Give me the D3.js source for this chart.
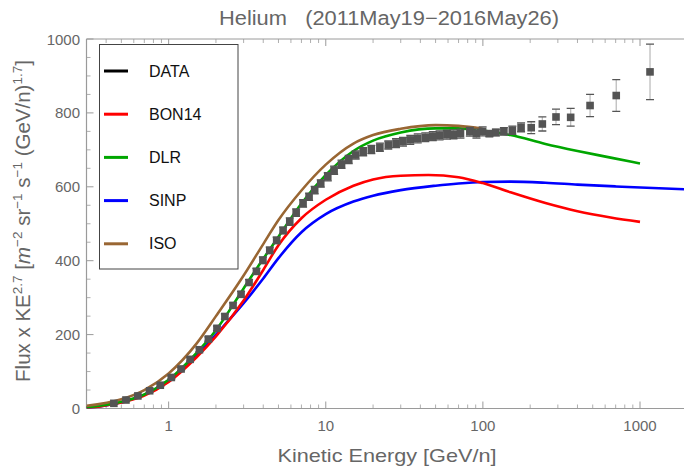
<!DOCTYPE html>
<html>
<head>
<meta charset="utf-8">
<script src="https://cdn.jsdelivr.net/npm/d3@7"></script>
<style>
  html, body { margin: 0; padding: 0; background: #fff; }
  svg { display: block; }
  text { font-family: "Liberation Sans", Arial, sans-serif; }
</style>
</head>
<body>
<svg id="chart" width="684" height="467"></svg>
<script>
// Measured helium flux (kinetic energy per nucleon, flux x KE^2.7)
const dataEnergy = [0.448, 0.535, 0.637, 0.757, 0.885, 1.04, 1.2, 1.37, 1.57, 1.79, 2.03, 2.28, 2.57, 2.89, 3.25, 3.62, 3.98, 4.4, 4.87, 5.35, 5.9, 6.48, 7.17, 7.83, 8.5, 9.29, 10.3, 11.3, 12.6, 14.0, 15.5, 17.3, 19.5, 22.1, 25, 28, 31, 34.5, 38.5, 43, 48, 53, 59, 65, 72, 82.6, 91, 99.6, 110, 121, 136, 154, 175, 203, 239, 292, 362, 481, 706, 1158];
const dataFlux   = [14, 23, 34, 48, 63, 84, 107, 133, 159, 188, 217, 249, 279, 309, 341, 371, 401, 428, 455, 482, 506, 530, 555, 573, 591, 609, 627, 645, 661, 674, 686, 695, 701, 707, 713, 718, 722, 727, 731, 734, 737, 739, 741, 742, 744, 749, 744, 750, 744, 747, 750, 753, 761, 760, 770, 789, 788, 820, 847, 911];
const dataErr    = [2, 2, 2, 3, 3, 4, 4, 5, 5, 6, 6, 7, 7, 8, 8, 8, 9, 9, 9, 9, 10, 10, 10, 10, 10, 10, 11, 11, 11, 11, 11, 11, 11, 11, 11, 12, 12, 12, 12, 12, 12, 12, 12, 12, 12, 12, 12, 12, 8, 9, 10, 11, 12, 16, 19, 21, 24, 30, 43, 75];

// Model curves
const bonEnergy = [0.3, 0.5, 0.7, 1, 1.5, 2, 3, 4, 5, 7, 10, 15, 20, 30, 45, 70, 100, 150, 250, 400, 650, 1000];
const bonFlux   = [1, 16, 35, 72, 138, 195, 292, 375, 442, 515, 565, 603, 620, 630, 632, 626, 610, 585, 556, 534, 517, 505];

const dlrEnergy = [0.3, 0.5, 0.7, 1, 1.5, 2, 3, 4, 5, 7, 10, 15, 20, 30, 50, 70, 100, 150, 250, 400, 650, 1000];
const dlrFlux   = [3, 18, 38, 78, 150, 212, 325, 405, 465, 555, 632, 697, 725, 747, 758, 758, 752, 740, 716, 697, 679, 663];

const sinpEnergy = [0.3, 0.5, 0.7, 1, 1.5, 2, 3, 4, 5, 7, 10, 15, 20, 30, 50, 70, 100, 150, 250, 400, 700, 2000];
const sinpFlux   = [1, 17, 37, 75, 142, 200, 285, 352, 407, 477, 526, 560, 576, 591, 603, 609, 613, 614, 611, 606, 601, 593];

const isoEnergy = [0.3, 0.5, 0.7, 1, 1.5, 2, 3, 4, 5, 7, 10, 15, 20, 30, 50, 70, 100];
const isoFlux   = [7, 25, 50, 95, 175, 250, 360, 445, 510, 590, 660, 717, 740, 757, 767, 765, 757];

const legendNames  = ["DATA", "BON14", "DLR", "SINP", "ISO"];
const legendColors = ["#000000", "#ff0000", "#00a600", "#0000ff", "#996633"];

const xTickValues = [1, 10, 100, 1000];
const yTickValues = [0, 200, 400, 600, 800, 1000];

const svg = d3.select("#chart");
const W = 684, H = 467;
const plotLeft = 86.5, plotTop = 39, plotBottom = 408.5;

const x = d3.scaleLog().domain([0.3, 2000]).range([plotLeft, 687.3]);
const y = d3.scaleLinear().domain([0, 1000]).range([plotBottom, plotTop]);

const axisGray = "#9a9a9a";
const textGray = "#666666";

// minor tick positions
const xMinor = [];
for (let d = -1; d <= 3; d++) {
  for (let m = 2; m <= 9; m++) {
    const v = m * Math.pow(10, d);
    if (v >= 0.3 && v <= 2000) xMinor.push(v);
  }
}
const yMinor = d3.range(0, 1001, 50).filter(v => v % 200 !== 0);

const frame = svg.append("g");
frame.append("line").attr("x1", plotLeft).attr("x2", W).attr("y1", plotBottom).attr("y2", plotBottom)
  .attr("stroke", axisGray).attr("stroke-width", 1.2);
frame.append("line").attr("x1", plotLeft).attr("x2", W).attr("y1", plotTop).attr("y2", plotTop)
  .attr("stroke", axisGray).attr("stroke-width", 1);
frame.append("line").attr("x1", plotLeft).attr("x2", plotLeft).attr("y1", plotTop).attr("y2", plotBottom)
  .attr("stroke", axisGray).attr("stroke-width", 1.2);

// bottom and top ticks
xTickValues.forEach(v => {
  frame.append("line").attr("x1", x(v)).attr("x2", x(v)).attr("y1", plotBottom).attr("y2", plotBottom - 7)
    .attr("stroke", axisGray).attr("stroke-width", 1);
  frame.append("line").attr("x1", x(v)).attr("x2", x(v)).attr("y1", plotTop).attr("y2", plotTop + 7)
    .attr("stroke", axisGray).attr("stroke-width", 1);
});
xMinor.forEach(v => {
  frame.append("line").attr("x1", x(v)).attr("x2", x(v)).attr("y1", plotBottom).attr("y2", plotBottom - 4)
    .attr("stroke", axisGray).attr("stroke-width", 0.8);
  frame.append("line").attr("x1", x(v)).attr("x2", x(v)).attr("y1", plotTop).attr("y2", plotTop + 4)
    .attr("stroke", axisGray).attr("stroke-width", 0.8);
});
yTickValues.forEach(v => {
  frame.append("line").attr("x1", plotLeft).attr("x2", plotLeft + 7).attr("y1", y(v)).attr("y2", y(v))
    .attr("stroke", axisGray).attr("stroke-width", 1);
});
yMinor.forEach(v => {
  frame.append("line").attr("x1", plotLeft).attr("x2", plotLeft + 4).attr("y1", y(v)).attr("y2", y(v))
    .attr("stroke", axisGray).attr("stroke-width", 0.8);
});

// tick labels
svg.append("g").selectAll("text").data(xTickValues).join("text")
  .attr("x", d => x(d)).attr("y", 431)
  .attr("text-anchor", "middle").attr("font-size", 15).attr("fill", textGray)
  .text(d => d);
svg.append("g").selectAll("text").data(yTickValues).join("text")
  .attr("x", 80).attr("y", d => y(d) + 5.5)
  .attr("text-anchor", "end").attr("font-size", 15).attr("fill", textGray)
  .text(d => d);

// model curves
const line = d3.line().x(d => x(d[0])).y(d => y(d[1])).curve(d3.curveMonotoneX);
const zip = (a, b) => a.map((v, i) => [v, b[i]]);
const curves = [
  { pts: zip(sinpEnergy, sinpFlux), color: legendColors[3] },
  { pts: zip(bonEnergy, bonFlux), color: legendColors[1] },
  { pts: zip(dlrEnergy, dlrFlux), color: legendColors[2] },
  { pts: zip(isoEnergy, isoFlux), color: legendColors[4] }
];
svg.append("clipPath").attr("id", "plotclip")
  .append("rect").attr("x", plotLeft).attr("y", plotTop).attr("width", W - plotLeft).attr("height", plotBottom - plotTop);
const plot = svg.append("g").attr("clip-path", "url(#plotclip)");
curves.forEach(c => {
  plot.append("path").attr("d", line(c.pts)).attr("fill", "none")
    .attr("stroke", c.color).attr("stroke-width", 2.6);
});

// data with error bars
const pts = dataEnergy.map((e, i) => ({ e, v: dataFlux[i], err: dataErr[i] }));
const eb = plot.append("g");
pts.forEach(p => {
  eb.append("line").attr("x1", x(p.e)).attr("x2", x(p.e))
    .attr("y1", y(p.v + p.err)).attr("y2", y(p.v - p.err))
    .attr("stroke", "#bdbdbd").attr("stroke-width", 1.3);
  [p.v + p.err, p.v - p.err].forEach(v => {
    eb.append("line").attr("x1", x(p.e) - 4).attr("x2", x(p.e) + 4)
      .attr("y1", y(v)).attr("y2", y(v))
      .attr("stroke", "#555555").attr("stroke-width", 1.3);
  });
});
plot.append("g").selectAll("rect").data(pts).join("rect")
  .attr("x", d => x(d.e) - 3.8).attr("y", d => y(d.v) - 3.8)
  .attr("width", 7.6).attr("height", 7.6).attr("fill", "#545454");

// legend
const lg = svg.append("g");
lg.append("rect").attr("x", 99.5).attr("y", 44.5).attr("width", 138.5).attr("height", 224.5)
  .attr("fill", "#fff").attr("stroke", "#444").attr("stroke-width", 1);
legendNames.forEach((name, i) => {
  const ly = 71 + i * 43.2;
  lg.append("line").attr("x1", 104).attr("x2", 128).attr("y1", ly).attr("y2", ly)
    .attr("stroke", legendColors[i]).attr("stroke-width", 3);
  lg.append("text").attr("x", 149).attr("y", ly + 5.5).attr("font-size", 16)
    .attr("fill", "#111").text(name);
});

// title and axis labels
svg.append("text").attr("x", 389).attr("y", 25).attr("text-anchor", "middle")
  .attr("font-size", 20).attr("fill", textGray).attr("textLength", 340)
  .attr("lengthAdjust", "spacingAndGlyphs")
  .style("white-space", "pre").text("Helium   (2011May19\u22122016May26)");

svg.append("text").attr("x", 387).attr("y", 462).attr("text-anchor", "middle")
  .attr("font-size", 19).attr("fill", textGray).attr("textLength", 219)
  .attr("lengthAdjust", "spacingAndGlyphs").text("Kinetic Energy [GeV/n]");

const yl = svg.append("text").attr("transform", "translate(30,221) rotate(-90)")
  .attr("text-anchor", "middle").attr("font-size", 20.5).attr("fill", textGray);
yl.append("tspan").text("Flux x KE");
yl.append("tspan").attr("font-size", 13.5).attr("dy", -8).text("2.7");
yl.append("tspan").attr("dy", 8).text(" [");
yl.append("tspan").attr("font-style", "italic").text("m");
yl.append("tspan").attr("font-size", 13.5).attr("dy", -8).text("\u22122");
yl.append("tspan").attr("dy", 8).text(" sr");
yl.append("tspan").attr("font-size", 13.5).attr("dy", -8).text("\u22121");
yl.append("tspan").attr("dy", 8).text(" s");
yl.append("tspan").attr("font-size", 13.5).attr("dy", -8).text("\u22121");
yl.append("tspan").attr("dy", 8).text(" (GeV/n)");
yl.append("tspan").attr("font-size", 13.5).attr("dy", -8).text("1.7");
yl.append("tspan").attr("dy", 8).text("]");
</script>
</body>
</html>
